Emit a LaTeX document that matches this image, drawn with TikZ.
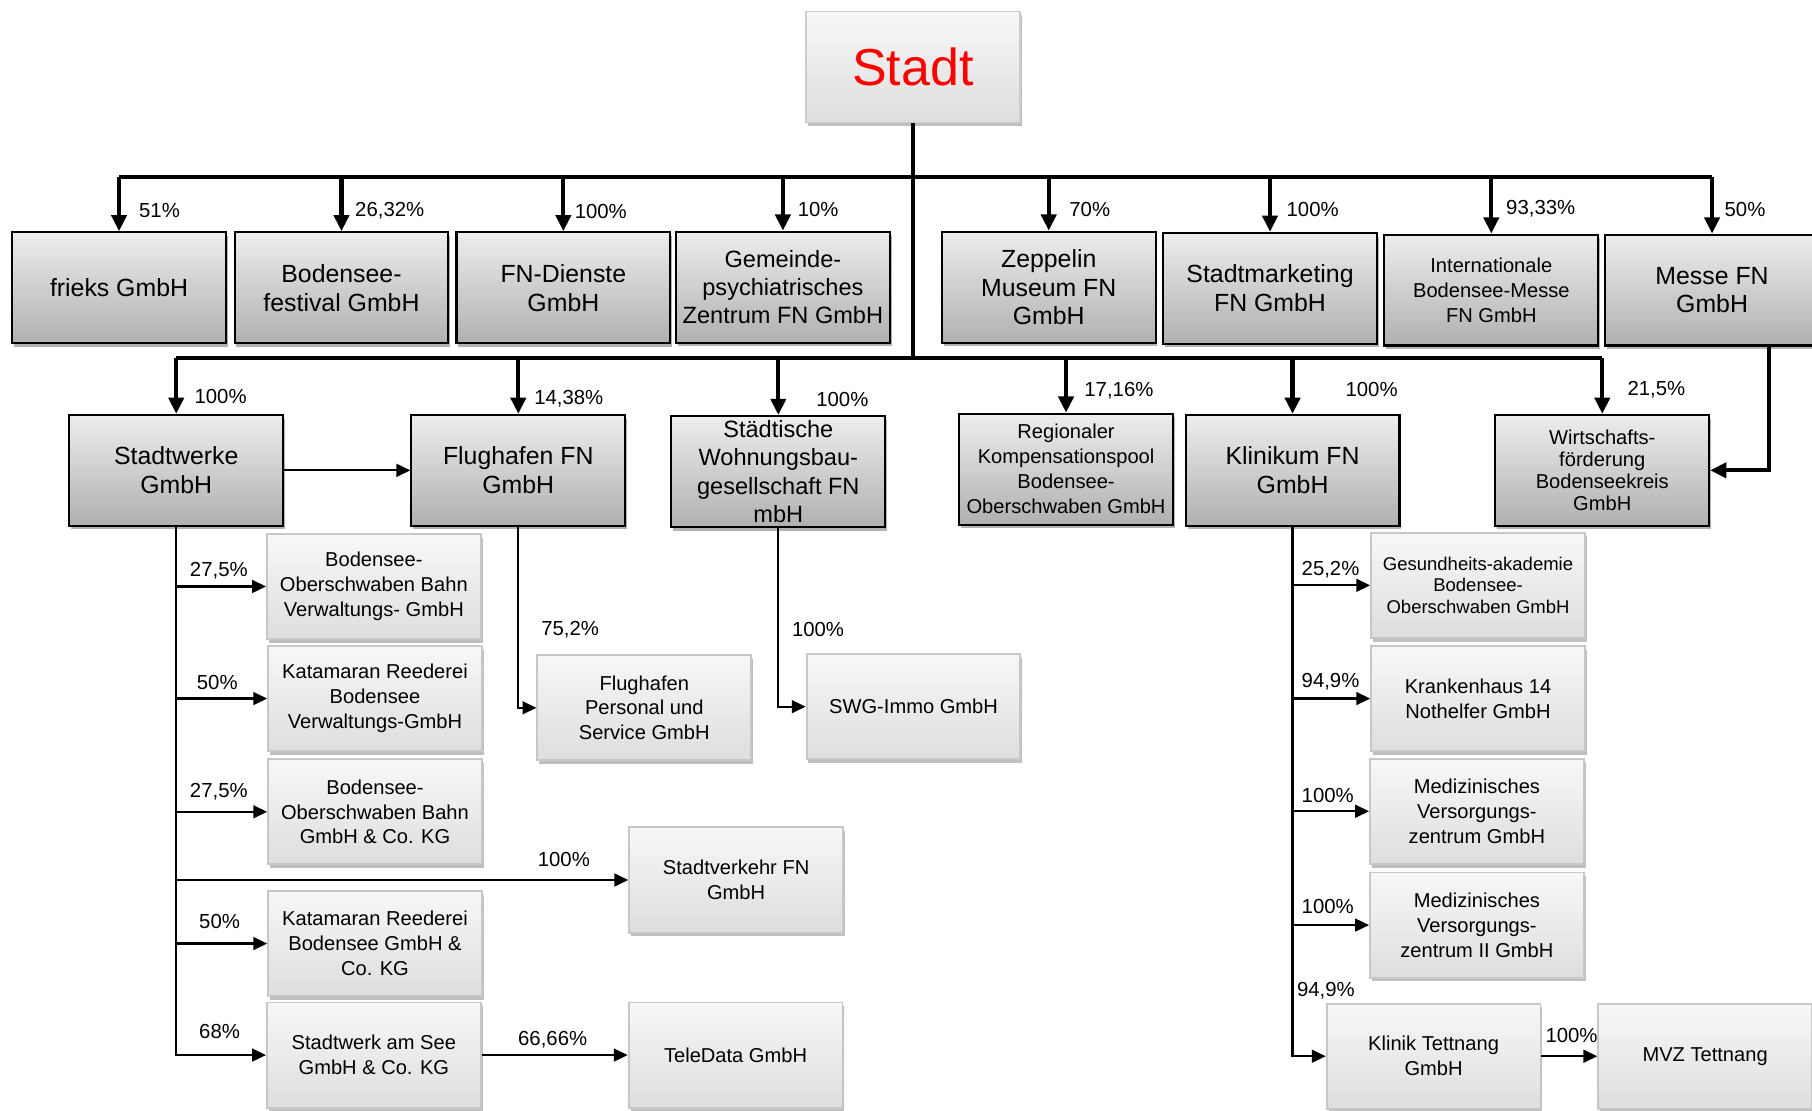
\documentclass[tikz,border=0pt]{standalone}
\usepackage{fontspec}
\setmainfont{Liberation Sans}
\usetikzlibrary{arrows.meta,shadows,calc}
\begin{document}
\begin{tikzpicture}[x=0.5pt,y=-0.5pt,
  bigfont/.style={font=\fontsize{10.75}{12.5}\selectfont},
  smallfont/.style={font=\fontsize{8.7}{10.8}\selectfont},
  darkbox/.style={draw=black, line width=0.9pt, top color=black!7, bottom color=black!31,
    minimum width=92.5pt, minimum height=48pt, align=center, inner sep=1pt,
    drop shadow={shadow xshift=0.8pt, shadow yshift=-1.6pt, fill=black, opacity=0.3}},
  lightbox/.style={draw=black!22, line width=0.8pt, top color=black!3, bottom color=black!13,
    minimum width=92.5pt, minimum height=45.5pt, align=center, inner sep=1pt, smallfont,
    drop shadow={shadow xshift=0.8pt, shadow yshift=-1.6pt, fill=black, opacity=0.25}},
  bus/.style={line width=1.8pt},
  busarrow/.style={line width=1.8pt, -{Triangle[length=7pt,width=6.5pt]}},
  link/.style={line width=0.95pt, -{Triangle[length=6pt,width=5.5pt]}},
  pct/.style={anchor=west, inner sep=0pt, font=\fontsize{8.8}{10}\selectfont}
]
\useasboundingbox (0,0) rectangle (1568,961);
\fill[white] (0,0) rectangle (1568,961);

% root
\node[lightbox, draw=black!20, minimum height=48pt, font=\fontsize{22.5}{24}\selectfont, text=red] (stadt) at (790,58) {Stadt};

% row 1
\node[darkbox, bigfont] (frieks) at (103,249) {frieks GmbH};
\node[darkbox, bigfont] (bsf) at (295.5,249) {Bodensee-\\festival GmbH};
\node[darkbox, bigfont] (fnd) at (487.5,249) {FN-Dienste\\GmbH};
\node[darkbox, font=\fontsize{10.2}{12}\selectfont] (gpz) at (677.5,248.5) {Gemeinde-\\psychiatrisches\\Zentrum FN GmbH};
\node[darkbox, font=\fontsize{10.75}{12.2}\selectfont] (zep) at (907.5,248.5) {Zeppelin\\Museum FN\\GmbH};
\node[darkbox, bigfont] (smk) at (1099,249.5) {Stadtmarketing\\FN GmbH};
\node[darkbox, smallfont] (ibm) at (1290.5,251) {Internationale\\Bodensee-Messe\\FN GmbH};
\node[darkbox, bigfont] (messe) at (1481.5,251) {Messe FN\\GmbH};

% row 2
\node[darkbox, bigfont] (stw) at (152.5,407) {Stadtwerke\\GmbH};
\node[darkbox, bigfont] (flh) at (448.5,407) {Flughafen FN\\GmbH};
\node[darkbox, font=\fontsize{10.2}{12.2}\selectfont] (swb) at (673.5,408) {Städtische\\Wohnungsbau-\\gesellschaft FN\\mbH};
\node[darkbox, smallfont] (rkp) at (922.5,406) {Regionaler\\Kompensationspool\\Bodensee-\\Oberschwaben GmbH};
\node[darkbox, bigfont] (klin) at (1118.5,407) {Klinikum FN\\GmbH};
\node[darkbox, font=\fontsize{8.7}{9.5}\selectfont] (wfb) at (1386.5,407) {Wirtschafts-\\förderung\\Bodenseekreis\\GmbH};

% children
\node[lightbox] (bob1) at (323.5,507.5) {Bodensee-\\Oberschwaben Bahn\\Verwaltungs- GmbH};
\node[lightbox] (kat1) at (324.5,604.5) {Katamaran Reederei\\Bodensee\\Verwaltungs-GmbH};
\node[lightbox] (bob2) at (324.5,702.5) {Bodensee-\\Oberschwaben Bahn\\GmbH \& Co. KG};
\node[lightbox] (stv) at (637,761.5) {Stadtverkehr FN\\GmbH};
\node[lightbox] (kat2) at (324.5,816.5) {Katamaran Reederei\\Bodensee GmbH \&\\Co. KG};
\node[lightbox] (swas) at (323.5,913) {Stadtwerk am See\\GmbH \& Co. KG};
\node[lightbox] (tele) at (636.5,913) {TeleData GmbH};
\node[lightbox] (flpers) at (557.5,612.5) {Flughafen\\Personal und\\Service GmbH};
\node[lightbox] (swg) at (790.5,611.5) {SWG-Immo GmbH};
\node[lightbox, font=\fontsize{8}{9.4}\selectfont] (gesund) at (1279,506.5) {Gesundheits-akademie\\Bodensee-\\Oberschwaben GmbH};
\node[lightbox] (kh) at (1279,604.5) {Krankenhaus 14\\Nothelfer GmbH};
\node[lightbox] (mvz1) at (1278,702) {Medizinisches\\Versorgungs-\\zentrum GmbH};
\node[lightbox] (mvz2) at (1278,800.5) {Medizinisches\\Versorgungs-\\zentrum II GmbH};
\node[lightbox] (klt) at (1240.5,914) {Klinik Tettnang\\GmbH};
\node[lightbox] (mvzt) at (1475.5,914) {MVZ Tettnang};

% buses
\coordinate (b1) at (790,153);
\coordinate (b2) at (790,310);
\draw[bus] (stadt.south) -- (b2);
\draw[bus] (frieks.north |- b1) -- (messe.north |- b1);
\draw[bus] (stw.north |- b2) -- (wfb.north |- b2);
\foreach \n in {frieks,bsf,fnd,gpz,zep,smk,ibm,messe}
  \draw[busarrow] (\n.north |- b1) -- (\n.north);
\foreach \n in {stw,flh,swb,rkp,klin,wfb}
  \draw[busarrow] (\n.north |- b2) -- (\n.north);
\draw[busarrow] ([xshift=24.75pt]messe.south) |- (wfb.east);

% thin links
\draw[link] (stw.east) -- (flh.west);
\foreach \n in {bob1,kat1,bob2,stv,kat2,swas}
  \draw[link] (stw.south) |- (\n.west);
\draw[link] (swas.east) -- (tele.west);
\draw[link] (flh.south) |- (flpers.west);
\draw[link] (swb.south) |- (swg.west);
\foreach \n in {gesund,kh,mvz1,mvz2,klt}
  \draw[link] (klin.south) |- (\n.west);
\draw[link] (klt.east) -- (mvzt.west);

% percentages
\node[pct] at (120,182) {51\%};
\node[pct] at (307,182) {26,32\%};
\node[pct] at (497,183) {100\%};
\node[pct] at (690,181) {10\%};
\node[pct] at (925,181) {70\%};
\node[pct] at (1113,181) {100\%};
\node[pct] at (1303,181) {93,33\%};
\node[pct] at (1492,181) {50\%};

\node[pct] at (168,343) {100\%};
\node[pct] at (462,345) {14,38\%};
\node[pct] at (706,346) {100\%};
\node[pct] at (938,338) {17,16\%};
\node[pct] at (1164,337) {100\%};
\node[pct] at (1408,337) {21,5\%};

\node[pct] at (164,494) {27,5\%};
\node[pct] at (170,591) {50\%};
\node[pct] at (164,685) {27,5\%};
\node[pct] at (465,744) {100\%};
\node[pct] at (172,797) {50\%};
\node[pct] at (172,893) {68\%};
\node[pct] at (448,900) {66,66\%};
\node[pct] at (468,545) {75,2\%};
\node[pct] at (685,545) {100\%};
\node[pct] at (1126,493) {25,2\%};
\node[pct] at (1126,590) {94,9\%};
\node[pct] at (1126,688) {100\%};
\node[pct] at (1126,784) {100\%};
\node[pct] at (1122,857) {94,9\%};
\node[pct] at (1337,896) {100\%};
\end{tikzpicture}
\end{document}
